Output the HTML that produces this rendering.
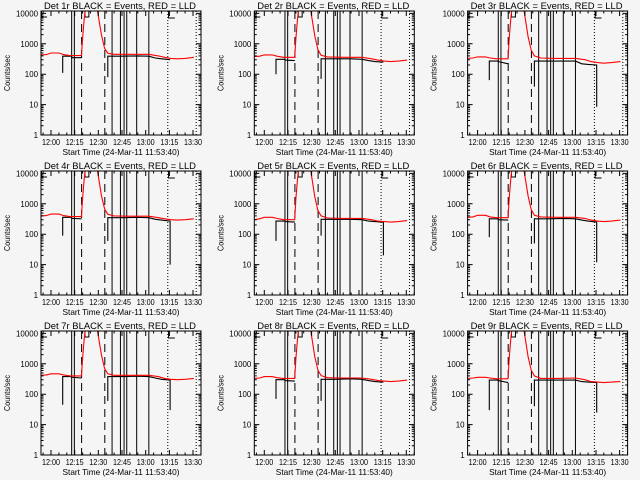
<!DOCTYPE html>
<html><head><meta charset="utf-8"><style>
html,body{margin:0;padding:0;background:#f5f5f5;}
svg{display:block;font-family:"Liberation Sans",sans-serif;}
</style></head><body>
<svg id="chart" width="640" height="480" viewBox="0 0 640 480" xmlns="http://www.w3.org/2000/svg">
<rect x="0" y="0" width="640" height="480" fill="#f5f5f5"/>
</svg>
<script>
// ---- data (time in minutes after 12:00) ----
const detectors = ["1r","2r","3r","4r","5r","6r","7r","8r","9r"];
const xTickLabels = ["12:00","12:15","12:30","12:45","13:00","13:15","13:30"];
const xTickTimes = [0,15,30,45,60,75,90];
const yTickLabels = ["1","10","100","1000","10000"];
const yTickValues = [1,10,100,1000,10000];
const redTimes = [-6.3,-3,0,5,8,12,19.3,20,21,21.6,29.5,32,34,36,40,50,62,68,72,76,80,85,90.5];
const red1 = [427,440,500,500,440,410,410,1500,6000,15000,15000,1900,710,490,450,450,450,400,360,330,320,330,360];
const red2 = [380,390,430,430,390,360,360,1500,6000,15000,15000,1800,650,420,370,360,360,320,290,270,260,270,290];
const red3 = [333,340,370,370,340,320,320,1500,6000,15000,15000,1700,620,400,340,330,330,300,260,240,230,240,260];
const red4 = [400,410,460,460,410,380,380,1500,6000,15000,15000,1800,680,450,400,390,390,350,320,300,290,300,320];
const red5 = [300,320,360,360,330,300,300,1500,6000,15000,15000,1700,600,400,340,330,330,300,270,260,250,260,280];
const red6 = [360,370,420,420,370,350,350,1500,6000,15000,15000,1800,650,420,370,360,360,330,290,270,260,270,290];
const red7 = [420,430,470,470,430,400,400,1500,6000,15000,15000,1900,700,470,420,420,420,380,330,310,300,310,330];
const red8 = [330,340,380,380,350,330,330,1500,6000,15000,15000,1700,620,410,350,340,340,310,280,270,260,270,290];
const red9 = [330,340,360,360,340,320,320,1500,6000,15000,15000,1700,620,400,330,330,340,300,260,250,240,250,260];
const blackTimes = [7.4,7.4,13.1,13.1,19.4,null,36,36,45,55,62,66,70,75.5,75.5];
const black1 = [110,390,390,350,350,null,80,390,390,400,390,340,320,300,300];
const black2 = [100,310,310,290,280,null,70,320,320,320,310,280,260,250,250];
const black3 = [64,270,270,260,220,null,39,270,270,270,270,220,210,200,8.5];
const black4 = [90,360,360,330,320,null,60,350,350,360,350,310,290,270,10];
const black5 = [60,270,270,260,250,null,90,310,310,310,300,270,260,250,20];
const black6 = [80,320,320,300,290,null,50,320,320,330,320,290,270,250,12];
const black7 = [45,380,380,360,340,null,60,380,380,390,380,340,310,290,30];
const black8 = [70,300,300,280,270,null,60,310,310,320,310,280,260,250,250];
const black9 = [30,290,290,280,240,null,40,290,290,290,290,260,250,240,25];
const solidEventTimes = [13.1,14.8,38.7,44,46.3,48,54.3,62];
const dashedEventTimes = [19.4,34.1];
const dottedEventTimes = [74,92];
const reds = [red1,red2,red3,red4,red5,red6,red7,red8,red9];
const blacks = [black1,black2,black3,black4,black5,black6,black7,black8,black9];

// ---- layout ----
const NS = "http://www.w3.org/2000/svg";
const svg = document.getElementById("chart");
const L = 41, R = 201, T = 11, B = 135;
const tMin = -6.33, tMax = 95.05;
const decPx = 30.4;
function xs(t){ return L + (t - tMin) * (R - L) / (tMax - tMin); }
function ys(v){ let y = B - Math.log10(Math.max(v,0.5)) * decPx; return Math.max(T, Math.min(B, y)); }
function mk(tag, attrs, parent){ const e = document.createElementNS(NS, tag); for (const k in attrs) e.setAttribute(k, attrs[k]); parent.appendChild(e); return e; }

for (let p = 0; p < 9; p++) {
  const col = p % 3, row = Math.floor(p / 3);
  const g = mk("g", {transform: "translate(" + (col * 213.3).toFixed(1) + "," + (row * 160) + ")"}, svg);
  
  
  const clipId = "clip" + p;
  const cp = mk("clipPath", {id: clipId}, g);
  mk("rect", {x: L, y: T, width: R - L, height: B - T}, cp);

  solidEventTimes.forEach(t => {
    const l = mk("line", {x1: xs(t), x2: xs(t), y1: T, y2: B, stroke: "#000", "stroke-width": 1}, g);
    
    
  });
  dashedEventTimes.forEach(t => {
    const l = mk("line", {x1: xs(t), x2: xs(t), y1: T, y2: B, stroke: "#000", "stroke-width": 1, "stroke-dasharray": "8,5"}, g);
    
    
  });
  dottedEventTimes.forEach(t => {
    const l = mk("line", {x1: xs(t), x2: xs(t), y1: T, y2: B, stroke: "#000", "stroke-width": 1, "stroke-dasharray": "1,2"}, g);
    
    
  });

  const tm = mk("path", {d: "M" + xs(-6) + "," + T + "V" + (T + 6) + "H" + xs(-2.5) + " M" + xs(21.5) + "," + T + "V" + (T + 6) + "H" + xs(24) + "V" + T + " M" + xs(74.5) + "," + T + "V" + (T + 7) + "H" + xs(78.5), fill: "none", stroke: "#000", "stroke-width": 1}, g);
  
  

  let d = "", pen = false;
  const bv = blacks[p];
  for (let i = 0; i < blackTimes.length; i++) {
    if (blackTimes[i] === null) { pen = false; continue; }
    const X = xs(blackTimes[i]).toFixed(1), Y = ys(bv[i]).toFixed(1);
    d += (pen ? "L" : "M") + X + "," + Y; pen = true;
  }
  const bl = mk("path", {d: d, fill: "none", stroke: "#000", "stroke-width": 1.1, "clip-path": "url(#" + clipId + ")"}, g);
  
  

  const rv = reds[p];
  let rd = "";
  for (let i = 0; i < redTimes.length; i++) {
    rd += (i ? "L" : "M") + xs(redTimes[i]).toFixed(1) + "," + ys(rv[i]).toFixed(1);
  }
  const rl = mk("path", {d: rd, fill: "none", stroke: "#ff0000", "stroke-width": 1.1, "clip-path": "url(#" + clipId + ")"}, g);
  
  

  const fr = mk("rect", {x: L, y: T, width: R - L, height: B - T, fill: "none", stroke: "#000", "stroke-width": 1}, g);
  
  

  let td = "";
  for (let dec = 0; dec < 5; dec++) {
    for (let m = 1; m <= 9; m++) {
      const v = m * Math.pow(10, dec);
      const y = B - Math.log10(v) * decPx;
      if (y < T) continue;
      const len = m === 1 ? 5 : 2.5;
      td += "M" + L + "," + y.toFixed(1) + "h" + len + "M" + R + "," + y.toFixed(1) + "h" + (-len);
    }
  }
  for (let t = -5; t <= 95; t += 5) {
    const x = xs(t).toFixed(1);
    const len = (t % 15 === 0) ? 5 : 2.5;
    td += "M" + x + "," + B + "v" + (-len) + "M" + x + "," + T + "v" + len;
  }
  const tk = mk("path", {d: td, stroke: "#000", "stroke-width": 1, fill: "none"}, g);
  
  

  yTickLabels.forEach((lab, i) => {
    const tx = mk("text", {x: L - 3, y: (B - Math.log10(yTickValues[i]) * decPx + 3).toFixed(1), "font-size": 8, "text-anchor": "end", fill: "#000", textLength: (lab.length * 4.4).toFixed(1), lengthAdjust: "spacingAndGlyphs"}, g);
    tx.textContent = lab;
    
    
  });
  xTickLabels.forEach((lab, i) => {
    const tx = mk("text", {x: xs(xTickTimes[i]).toFixed(1), y: B + 10, "font-size": 8, "text-anchor": "middle", fill: "#000", textLength: 18, lengthAdjust: "spacingAndGlyphs"}, g);
    tx.textContent = lab;
    
    
  });
  const xt = mk("text", {x: 121, y: B + 20, "font-size": 8.5, "text-anchor": "middle", fill: "#000", textLength: 117, lengthAdjust: "spacingAndGlyphs"}, g);
  xt.textContent = "Start Time (24-Mar-11 11:53:40)";
  
  
  const yt = mk("text", {x: 0, y: 0, "font-size": 8, "text-anchor": "middle", fill: "#000", textLength: 36, lengthAdjust: "spacingAndGlyphs", transform: "translate(10,73) rotate(-90)"}, g);
  yt.textContent = "Counts/sec";
  
  
  const ti = mk("text", {x: 120, y: 9, "font-size": 9.5, "text-anchor": "middle", fill: "#000", textLength: 152, lengthAdjust: "spacingAndGlyphs"}, g);
  ti.textContent = "Det " + detectors[p] + " BLACK = Events, RED = LLD";
  
  
}
</script>
</body></html>
